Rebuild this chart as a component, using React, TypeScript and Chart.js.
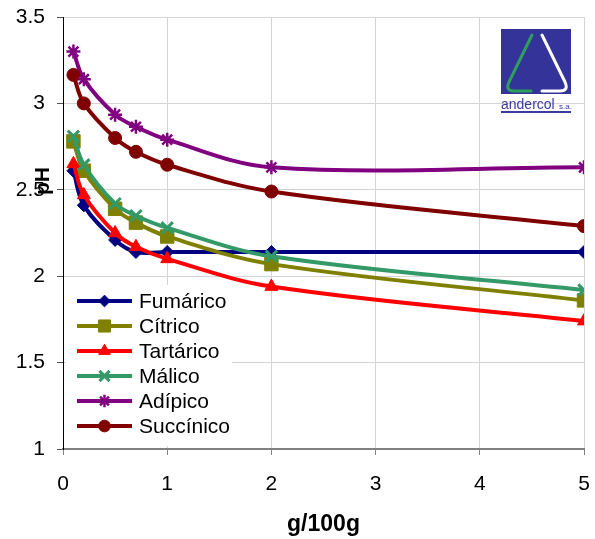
import React, { useEffect, useRef } from 'react';
import { Chart, registerables } from 'chart.js';
import { drawPoint } from 'chart.js/helpers';

Chart.register(...registerables);

// ---- data ----
const xValues = [0.1, 0.2, 0.5, 0.7, 1, 2, 5];
const seriesNames = ['Fumárico', 'Cítrico', 'Tartárico', 'Málico', 'Adípico', 'Succínico'];
const fumarico = [2.61, 2.41, 2.21, 2.14, 2.14, 2.14, 2.14];
const citrico = [2.78, 2.61, 2.39, 2.31, 2.23, 2.07, 1.86];
const tartarico = [2.65, 2.47, 2.25, 2.17, 2.1, 1.94, 1.74];
const malico = [2.81, 2.645, 2.42, 2.35, 2.28, 2.115, 1.92];
const adipico = [3.3, 3.14, 2.935, 2.865, 2.79, 2.63, 2.63];
const succinico = [3.165, 3.0, 2.8, 2.72, 2.645, 2.49, 2.29];
const xTitle = 'g/100g';
const yTitle = 'pH';
const logoName = 'andercol';
const logoSuffix = 's.a.';

const seriesValues = [fumarico, citrico, tartarico, malico, adipico, succinico];
const seriesColors = ['#000080', '#808000', '#FF0000', '#339966', '#800080', '#800000'];
const seriesStyles = ['rectRot', 'rect', 'triangle', 'crossRot', 'star', 'circle'];
const seriesRadius = [6.5, 9.5, 7.5, 8, 7, 6.5];
const seriesPointBorder = [1, 1, 1, 3, 2.5, 1];

const FONT = '"Liberation Sans", Arial, sans-serif';

const overlayPlugin = {
  id: 'overlay',
  afterDraw(chart: any) {
    const ctx = chart.ctx as CanvasRenderingContext2D;
    // y title
    ctx.save();
    ctx.translate(43, 181);
    ctx.rotate(-Math.PI / 2);
    ctx.font = `bold 21px ${FONT}`;
    ctx.fillStyle = '#000';
    ctx.textAlign = 'center';
    ctx.textBaseline = 'middle';
    ctx.fillText(yTitle, 0, 0);
    ctx.restore();

    // legend
    ctx.save();
    ctx.fillStyle = '#fff';
    ctx.fillRect(66, 285, 166, 161);
    seriesNames.forEach((name, i) => {
      const y = 301 + i * 25;
      const c = seriesColors[i];
      ctx.strokeStyle = c;
      ctx.lineWidth = 4;
      ctx.beginPath();
      ctx.moveTo(77, y);
      ctx.lineTo(132, y);
      ctx.stroke();
      ctx.fillStyle = c;
      ctx.strokeStyle = c;
      ctx.lineWidth = seriesPointBorder[i];
      drawPoint(ctx, { pointStyle: seriesStyles[i] as any, rotation: 0, radius: seriesRadius[i] * 0.9, borderWidth: seriesPointBorder[i] }, 104.5, y);
      ctx.fillStyle = '#000';
      ctx.font = `21px ${FONT}`;
      ctx.textAlign = 'left';
      ctx.textBaseline = 'middle';
      ctx.fillText(name, 139, y + 1);
    });
    ctx.restore();

    // logo
    ctx.save();
    ctx.fillStyle = '#333399';
    ctx.fillRect(501, 29, 70, 65);
    ctx.lineWidth = 3;
    ctx.lineCap = 'round';
    ctx.lineJoin = 'round';
    ctx.strokeStyle = '#2e9e5e';
    ctx.beginPath();
    ctx.moveTo(532, 35);
    ctx.lineTo(509, 82);
    ctx.quadraticCurveTo(505, 91, 514, 91);
    ctx.lineTo(531, 91);
    ctx.stroke();
    ctx.strokeStyle = '#ffffff';
    ctx.beginPath();
    ctx.moveTo(542, 35);
    ctx.lineTo(565, 82);
    ctx.quadraticCurveTo(569, 91, 560, 91);
    ctx.lineTo(542, 91);
    ctx.stroke();
    ctx.fillStyle = '#3a3aa0';
    ctx.font = `14px ${FONT}`;
    ctx.textAlign = 'left';
    ctx.textBaseline = 'alphabetic';
    ctx.fillText(logoName, 501, 109);
    ctx.font = `8px ${FONT}`;
    ctx.fillText(logoSuffix, 559, 109);
    ctx.fillRect(501, 111, 70, 2);
    ctx.restore();
  },
};

const zeroPad = (s: any) => {
  s.paddingLeft = 0;
  s.paddingRight = 0;
  s.paddingTop = 0;
  s.paddingBottom = 0;
};

export default function App() {
  const ref = useRef<HTMLCanvasElement | null>(null);
  useEffect(() => {
    if (!ref.current) return;
    const chart = new Chart(ref.current, {
      type: 'line',
      data: {
        datasets: seriesNames.map((name, i) => ({
          label: name,
          data: xValues.map((x, j) => ({ x, y: seriesValues[i][j] })),
          borderColor: seriesColors[i],
          backgroundColor: seriesColors[i],
          borderWidth: 4,
          pointStyle: seriesStyles[i] as any,
          pointRadius: seriesRadius[i],
          pointBorderWidth: seriesPointBorder[i],
          pointBackgroundColor: seriesColors[i],
          pointBorderColor: seriesColors[i],
          tension: 0.35,
          order: seriesNames.length - i,
        })),
      },
      options: {
        animation: false,
        responsive: true,
        maintainAspectRatio: false,
        layout: { padding: { top: 17, right: 6, left: 0, bottom: 0 } },
        plugins: { legend: { display: false }, tooltip: { enabled: false } },
        scales: {
          x: {
            type: 'linear',
            min: 0,
            max: 5,
            ticks: { stepSize: 1, font: { size: 21, family: FONT }, color: '#000', padding: 17, maxRotation: 0,
              callback: (v: any) => String(Number(v)) },
            grid: { color: '#d4d4d4', lineWidth: 1, tickLength: 6, tickColor: '#808080' },
            border: { color: '#808080', width: 2 },
            title: { display: true, text: xTitle, font: { size: 23, weight: 'bold', family: FONT }, color: '#000', padding: { top: 0, bottom: 1 } },
            afterFit: (s: any) => { s.height = 90; zeroPad(s); },
          },
          y: {
            min: 1,
            max: 3.5,
            ticks: { stepSize: 0.5, font: { size: 21, family: FONT }, color: '#000', padding: 12,
              callback: (v: any) => String(Number(v)) },
            grid: { color: '#d4d4d4', lineWidth: 1, tickLength: 6, tickColor: '#555' },
            border: { color: '#000', width: 1 },
            afterFit: (s: any) => { s.width = 63; zeroPad(s); },
          },
        },
      },
      plugins: [overlayPlugin],
    } as any);
    return () => chart.destroy();
  }, []);
  return (
    <div style={{ position: 'absolute', left: 0, top: 0, width: 595, height: 539, background: '#fff' }}>
      <canvas ref={ref} />
    </div>
  );
}
